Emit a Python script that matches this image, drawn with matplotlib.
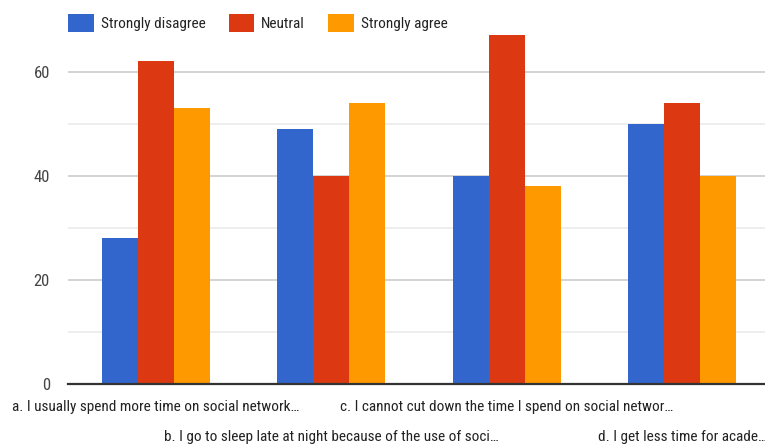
import matplotlib
matplotlib.use("Agg")
import matplotlib.pyplot as plt
from matplotlib import font_manager
from matplotlib.patches import Patch
import numpy as np

# survey responses per statement
CATEGORIES = [
    "a. I usually spend more time on social network…",
    "b. I go to sleep late at night because of the use of soci…",
    "c. I cannot cut down the time I spend on social networ…",
    "d. I get less time for acade…",
]
SERIES = ["Strongly disagree", "Neutral", "Strongly agree"]
STRONGLY_DISAGREE = [28, 49, 40, 50]
NEUTRAL = [62, 40, 67, 54]
STRONGLY_AGREE = [53, 54, 38, 40]
Y_TICKS = [0, 20, 40, 60]

COLORS = ["#3366CC", "#DC3912", "#FF9900"]
TEXT = "#444444"

# prefer a narrow face if one is around
names = {f.name for f in font_manager.fontManager.ttflist}
narrow = [n for n in ["Roboto Condensed", "Liberation Sans Narrow",
                      "Open Sans Condensed"] if n in names]
if narrow:
    FONT, FS = narrow[0], 11
else:
    FONT, FS = "Roboto", 9
plt.rcParams["font.family"] = [FONT, "DejaVu Sans"]

W, H = 765, 445
fig = plt.figure(figsize=(W / 100, H / 100), dpi=100)
ax_left, ax_right, ax_bottom, ax_top = 68, 770, 384, 30
ax = fig.add_axes([ax_left / W, 1 - ax_bottom / H,
                   (ax_right - ax_left) / W, (ax_bottom - ax_top) / H])

x = np.arange(len(CATEGORIES))
bw = 0.205
for i, (vals, col) in enumerate(zip([STRONGLY_DISAGREE, NEUTRAL, STRONGLY_AGREE], COLORS)):
    ax.bar(x + (i - 1) * bw, vals, width=bw, color=col, zorder=3)

ax.set_xlim(-0.5, len(CATEGORIES) - 0.5)
ax.set_ylim(0, 68)
ax.set_yticks(Y_TICKS)
ax.set_yticks([10, 30, 50], minor=True)
ax.grid(axis="y", which="major", color="#cccccc", linewidth=1.2, zorder=0)
ax.grid(axis="y", which="minor", color="#ebebeb", linewidth=1.2, zorder=0)
for s in ["top", "right", "left"]:
    ax.spines[s].set_visible(False)
ax.spines["bottom"].set_color("#333333")
ax.spines["bottom"].set_linewidth(1.6)
ax.spines["bottom"].set_zorder(4)
ax.tick_params(axis="y", which="both", length=0, pad=13, labelsize=FS + 1,
               labelcolor=TEXT)
ax.tick_params(axis="x", length=0)
ax.set_xticks(x)
ax.set_xticklabels([])

# category labels staggered over two rows
for i, lab in enumerate(CATEGORIES):
    yoff = -23 if i % 2 == 0 else -53
    ax.annotate(lab, xy=(x[i], 0), xycoords="data", xytext=(0, yoff),
                textcoords="offset pixels", ha="center", va="center",
                fontsize=FS, color="#222222", annotation_clip=False)

handles = [Patch(facecolor=c, edgecolor="none") for c in COLORS]
fig.legend(handles, SERIES, loc="upper left", bbox_to_anchor=(68 / W, 1 - 14 / H),
           ncol=3, frameon=False, fontsize=FS, borderpad=0, borderaxespad=0,
           handlelength=1.7, handleheight=1.44, handletextpad=0.45,
           columnspacing=1.5, labelcolor="#222222")

fig.savefig("out.png", dpi=100)
